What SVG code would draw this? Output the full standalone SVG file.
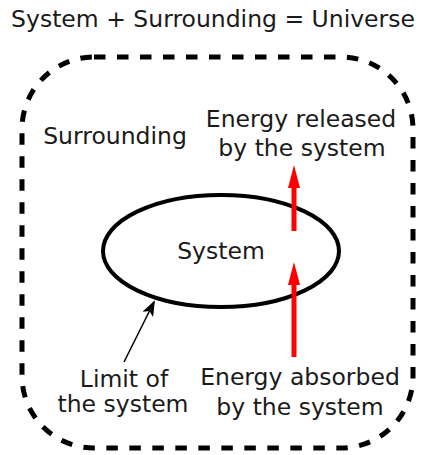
<svg xmlns="http://www.w3.org/2000/svg" width="426" height="455" viewBox="0 0 426 455">
<style>
text{font-family:"DejaVu Sans","Liberation Sans",sans-serif;font-size:23.5px;fill:#1a1a1a;text-anchor:middle}
.red{stroke:#ff0000;stroke-width:5;fill:none}
</style>
<defs>
<marker id="redhead" markerUnits="userSpaceOnUse" markerWidth="14" markerHeight="24" refX="0" refY="7" orient="auto" viewBox="0 0 24 14">
<path d="M0,7 L-2,7 Z"/>
</marker>
<marker id="blackhead" markerUnits="userSpaceOnUse" markerWidth="16" markerHeight="12" refX="14" refY="6" orient="auto" viewBox="0 0 16 12">
<path d="M0,0 L16,6 L0,12 L4,6 Z" fill="#000"/>
</marker>
</defs>
<text x="213" y="27">System + Surrounding = Universe</text>
<g id="universe">
<rect x="22" y="57" width="391" height="391" rx="72" ry="72" fill="none" stroke="#000" stroke-width="5" stroke-dasharray="11.5 11.5"/>
<text x="115" y="144">Surrounding</text>
</g>
<g id="system">
<ellipse cx="221" cy="251" rx="118" ry="56" fill="none" stroke="#000" stroke-width="4"/>
<text x="221" y="259">System</text>
</g>
<g id="released-label">
<text x="301" y="127">Energy released</text>
<text x="302" y="156">by the system</text>
</g>
<g id="absorbed-label">
<text x="300" y="385">Energy absorbed</text>
<text x="300" y="415">by the system</text>
</g>
<g id="limit-label">
<text x="124" y="387">Limit of</text>
<text x="123" y="412">the system</text>
</g>
<g id="connectors">
<line x1="294" y1="231" x2="294" y2="186" class="red"/>
<polygon points="294,165 288,188 300,188" fill="#ff0000"/>
<line x1="294" y1="357" x2="294" y2="283" class="red"/>
<polygon points="294,262 288,285 300,285" fill="#ff0000"/>
<line x1="124" y1="362" x2="154" y2="302" stroke="#000" stroke-width="1.5" marker-end="url(#blackhead)"/>
</g>
</svg>
